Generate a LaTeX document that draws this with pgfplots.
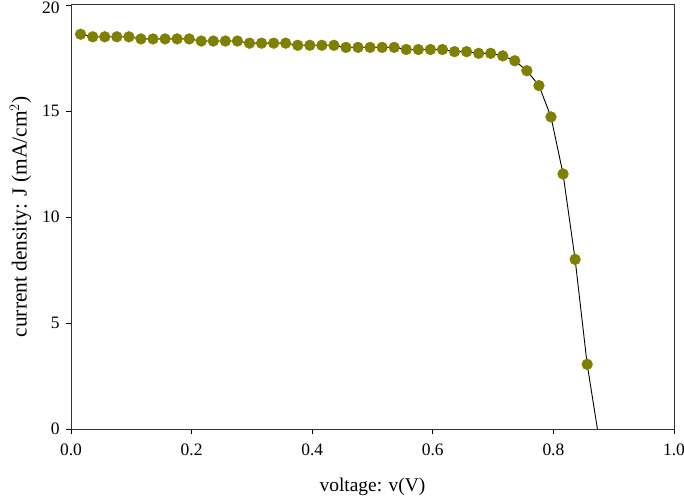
\documentclass[border=0pt]{standalone}
\usepackage{fontspec}
\setmainfont{Liberation Serif}
\usepackage{pgfplots}
\pgfplotsset{compat=1.18}
\definecolor{olivemark}{HTML}{808000}
\begin{document}
\begin{tikzpicture}[x=1bp,y=1bp]
\path[use as bounding box] (-71bp,-70bp) rectangle (613bp,429bp);
\begin{axis}[
  scale only axis,
  width=603bp, height=424bp,
  xmin=0, xmax=1, ymin=0, ymax=20,
  xtick={0,0.2,0.4,0.6,0.8,1.0},
  ytick={0,5,10,15,20},
  yticklabels={0,5,10,15,\raisebox{-8.3bp}[0pt][0pt]{20}},
  xticklabel style={yshift=-6bp, /pgf/number format/fixed, /pgf/number format/fixed zerofill, /pgf/number format/precision=1},
  /pgf/number format/assume math mode=true,
  tick align=outside, tick pos=left,
  major tick length=5bp,
  tick style={black, line width=0.9bp},
  axis line style={draw=black!80, line width=1bp},
  ticklabel style={font=\fontsize{17.5}{19}\selectfont},
  yticklabel style={xshift=-3bp},
  xlabel style={font=\fontsize{19.5}{21}\selectfont, yshift=-16bp},
  ylabel style={font=\fontsize{21.5}{23}\selectfont, yshift=4bp},
  xlabel={voltage: v(V)},
  ylabel={current density: J (mA/cm$^{2}$)},
  clip=false,
]
\addplot[black, line width=0.9bp, no marks] coordinates {
(0.007,18.66) (0.016,18.62) (0.036,18.5) (0.056,18.5) (0.076,18.5) (0.096,18.5)
(0.116,18.4) (0.136,18.4) (0.156,18.4) (0.176,18.4) (0.196,18.4)
(0.216,18.3) (0.236,18.3) (0.256,18.3) (0.276,18.3)
(0.296,18.2) (0.316,18.2) (0.336,18.2) (0.356,18.2)
(0.376,18.1) (0.396,18.1) (0.416,18.1) (0.436,18.1)
(0.456,18.0) (0.476,18.0) (0.496,18.0) (0.516,18.0) (0.536,18.0)
(0.556,17.9) (0.576,17.9) (0.596,17.9) (0.616,17.9)
(0.636,17.8) (0.656,17.8) (0.676,17.72) (0.696,17.72)
(0.716,17.6) (0.736,17.37) (0.756,16.9) (0.776,16.2) (0.796,14.72)
(0.816,12.03) (0.836,8.0) (0.856,3.05) (0.873,0)
};
\addplot[only marks, mark=*, mark size=5.4bp, mark options={fill=olivemark, draw=olivemark}] coordinates {
(0.016,18.62) (0.036,18.5) (0.056,18.5) (0.076,18.5) (0.096,18.5)
(0.116,18.4) (0.136,18.4) (0.156,18.4) (0.176,18.4) (0.196,18.4)
(0.216,18.3) (0.236,18.3) (0.256,18.3) (0.276,18.3)
(0.296,18.2) (0.316,18.2) (0.336,18.2) (0.356,18.2)
(0.376,18.1) (0.396,18.1) (0.416,18.1) (0.436,18.1)
(0.456,18.0) (0.476,18.0) (0.496,18.0) (0.516,18.0) (0.536,18.0)
(0.556,17.9) (0.576,17.9) (0.596,17.9) (0.616,17.9)
(0.636,17.8) (0.656,17.8) (0.676,17.72) (0.696,17.72)
(0.716,17.6) (0.736,17.37) (0.756,16.9) (0.776,16.2) (0.796,14.72)
(0.816,12.03) (0.836,8.0) (0.856,3.05)
};
\end{axis}
\end{tikzpicture}
\end{document}
